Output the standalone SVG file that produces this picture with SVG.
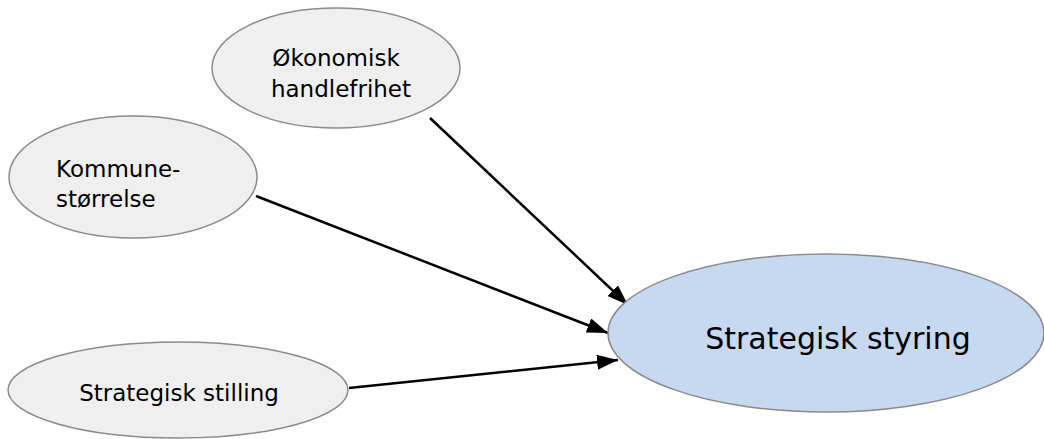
<svg xmlns="http://www.w3.org/2000/svg" width="1044" height="439" viewBox="0 0 1044 439">
<style>
.n{fill:#efefef;stroke:#8a8a8a;stroke-width:1.5}
.m{fill:#c6d9f0;stroke:#8a8a8a;stroke-width:1.5}
.t{font-family:"DejaVu Sans",Verdana,sans-serif;font-size:23px;fill:#000}
.big{font-family:"DejaVu Sans",Verdana,sans-serif;font-size:30px;fill:#000}
.c{stroke:#000;stroke-width:2.5;fill:none;marker-end:url(#ah)}
</style>
<defs>
<marker id="ah" markerUnits="userSpaceOnUse" markerWidth="21" markerHeight="15" refX="21" refY="7.5" orient="auto">
<path d="M0,0 L21,7.5 L0,15 z" fill="#000"/>
</marker>
</defs>
<rect width="1044" height="439" fill="#fff"/>
<g id="connectors">
<line class="c" x1="430" y1="118" x2="628" y2="305"/>
<line class="c" x1="256" y1="196" x2="608" y2="333"/>
<line class="c" x1="349" y1="388" x2="618" y2="360"/>
</g>
<g id="okonomisk">
<ellipse class="n" cx="336" cy="68" rx="124" ry="60"/>
<text class="t" x="336" y="66" text-anchor="middle">Økonomisk</text>
<text class="t" x="341" y="97" text-anchor="middle">handlefrihet</text>
</g>
<g id="kommune">
<ellipse class="n" cx="133" cy="177" rx="124" ry="61"/>
<text class="t" x="56" y="177">Kommune-</text>
<text class="t" x="56" y="207">størrelse</text>
</g>
<g id="stilling">
<ellipse class="n" cx="178" cy="390" rx="170" ry="48"/>
<text class="t" x="179" y="401" text-anchor="middle">Strategisk stilling</text>
</g>
<g id="styring">
<ellipse class="m" cx="826" cy="333" rx="218" ry="79"/>
<text class="big" x="838" y="349" text-anchor="middle">Strategisk styring</text>
</g>
</svg>
